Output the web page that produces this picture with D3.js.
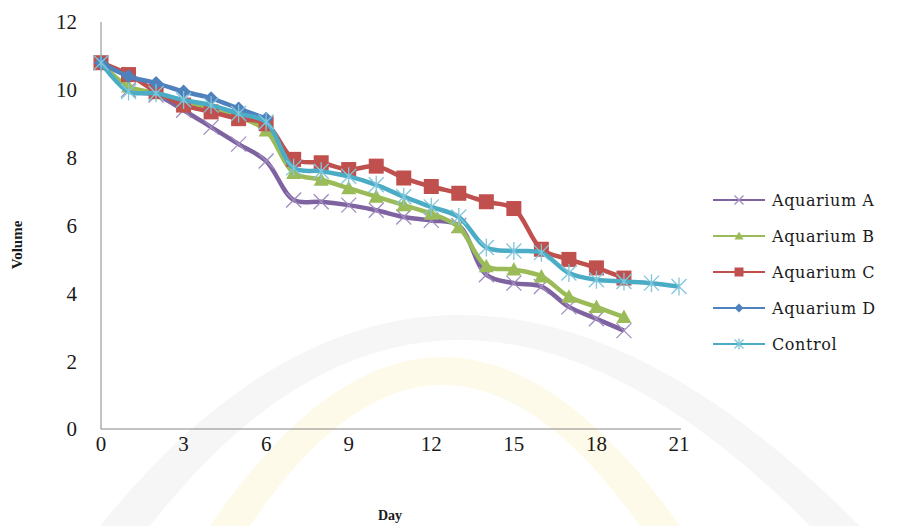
<!DOCTYPE html>
<html>
<head>
<meta charset="utf-8">
<script src="https://cdn.jsdelivr.net/npm/d3@7"></script>
<style>
  body { margin: 0; background: #fff; }
  svg { display: block; }
  .serif { font-family: "Liberation Serif", "Times New Roman", serif; }
  .legend-text { font-family: "DejaVu Serif", serif; }
</style>
</head>
<body>
<svg id="chart" width="903" height="526"></svg>
<script>
// values
var days = [0, 1, 2, 3, 4, 5, 6, 7, 8, 9, 10, 11, 12, 13, 14, 15, 16, 17, 18, 19, 20, 21];
var aquariumA = [10.8, 10.0, 9.85, 9.4, 8.9, 8.4, 7.9, 6.75, 6.7, 6.6, 6.45, 6.25, 6.15, 6.0, 4.55, 4.3, 4.2, 3.6, 3.25, 2.9];
var aquariumB = [10.8, 10.1, 9.9, 9.6, 9.45, 9.2, 8.8, 7.55, 7.35, 7.1, 6.85, 6.6, 6.35, 5.95, 4.8, 4.7, 4.5, 3.9, 3.6, 3.3];
var aquariumC = [10.8, 10.45, 9.95, 9.55, 9.35, 9.15, 9.0, 7.95, 7.85, 7.65, 7.75, 7.4, 7.15, 6.95, 6.7, 6.5, 5.3, 5.0, 4.75, 4.45];
var aquariumD = [10.8, 10.4, 10.2, 9.95, 9.75, 9.45, 9.15];
var control   = [10.8, 9.95, 9.9, 9.7, 9.55, 9.3, 9.05, 7.7, 7.6, 7.45, 7.2, 6.85, 6.55, 6.25, 5.35, 5.25, 5.2, 4.6, 4.4, 4.35, 4.3, 4.2];
var seriesNames = ['Aquarium A', 'Aquarium B', 'Aquarium C', 'Aquarium D', 'Control'];
var xTicks = [0, 3, 6, 9, 12, 15, 18, 21];
var yTicks = [0, 2, 4, 6, 8, 10, 12];

var series = [
  {name: seriesNames[0], values: aquariumA, line: '#7e63a0', mark: '#a08cc0', shape: 'x'},
  {name: seriesNames[1], values: aquariumB, line: '#9bbb59', mark: '#9bbb59', shape: 'triangle'},
  {name: seriesNames[2], values: aquariumC, line: '#c0504d', mark: '#c0504d', shape: 'square'},
  {name: seriesNames[3], values: aquariumD, line: '#4f81bd', mark: '#4f81bd', shape: 'diamond'},
  {name: seriesNames[4], values: control,   line: '#4bacc6', mark: '#80c6da', shape: 'star'}
];

var svg = d3.select('#chart');
var x = d3.scaleLinear().domain([0, 21]).range([101, 679]);
var y = d3.scaleLinear().domain([0, 12]).range([429, 22]);

// faint watermark bands behind the chart
svg.append('path')
  .attr('d', 'M100,526 Q440,104 860,526 L810,526 Q440,154 150,526 Z')
  .attr('fill', '#f6f6f6');
svg.append('path')
  .attr('d', 'M210,526 Q440,188 680,526 L640,526 Q440,244 250,526 Z')
  .attr('fill', '#fefaea');

// axes
svg.append('line')
  .attr('x1', x(0)).attr('x2', x(0))
  .attr('y1', y(12)).attr('y2', y(0))
  .attr('stroke', '#868686').attr('stroke-width', 1);
svg.append('line')
  .attr('x1', x(0)).attr('x2', x(21) + 2)
  .attr('y1', y(0)).attr('y2', y(0))
  .attr('stroke', '#868686').attr('stroke-width', 1);

svg.append('g').selectAll('text')
  .data(yTicks)
  .join('text')
  .attr('class', 'serif')
  .attr('x', 77)
  .attr('y', d => y(d))
  .attr('dy', '0.35em')
  .attr('text-anchor', 'end')
  .attr('font-size', 21)
  .attr('fill', '#1a1a1a')
  .text(d => d);

svg.append('g').selectAll('text')
  .data(xTicks)
  .join('text')
  .attr('class', 'serif')
  .attr('x', d => x(d))
  .attr('y', 451)
  .attr('text-anchor', 'middle')
  .attr('font-size', 21)
  .attr('fill', '#1a1a1a')
  .text(d => d);

svg.append('text')
  .attr('class', 'serif')
  .attr('transform', 'translate(22,' + 245 + ') rotate(-90)')
  .attr('text-anchor', 'middle')
  .attr('font-weight', 'bold')
  .attr('font-size', 15)
  .attr('fill', '#1a1a1a')
  .text('Volume');

svg.append('text')
  .attr('class', 'serif')
  .attr('x', (x(0) + x(21)) / 2)
  .attr('y', 520)
  .attr('text-anchor', 'middle')
  .attr('font-weight', 'bold')
  .attr('font-size', 14)
  .attr('fill', '#1a1a1a')
  .text('Day');

function drawMarker(g, shape, color, size) {
  var h = size / 2;
  if (shape === 'x') {
    g.append('path').attr('d', 'M' + (-h) + ',' + (-h) + 'L' + h + ',' + h + 'M' + (-h) + ',' + h + 'L' + h + ',' + (-h))
      .attr('stroke', color).attr('stroke-width', 1.3).attr('fill', 'none');
  } else if (shape === 'star') {
    g.append('path').attr('d', 'M' + (-h) + ',' + (-h) + 'L' + h + ',' + h + 'M' + (-h) + ',' + h + 'L' + h + ',' + (-h) + 'M0,' + (-h * 1.2) + 'L0,' + (h * 1.2))
      .attr('stroke', color).attr('stroke-width', 1.3).attr('fill', 'none');
  } else if (shape === 'square') {
    g.append('rect').attr('x', -h).attr('y', -h).attr('width', size).attr('height', size).attr('fill', color);
  } else if (shape === 'triangle') {
    g.append('path').attr('d', 'M0,' + (-h) + 'L' + h + ',' + h * 0.8 + 'L' + (-h) + ',' + h * 0.8 + 'Z').attr('fill', color);
  } else if (shape === 'diamond') {
    g.append('path').attr('d', 'M0,' + (-h) + 'L' + h + ',0L0,' + h + 'L' + (-h) + ',0Z').attr('fill', color);
  }
}

var line = d3.line()
  .x((d, i) => x(days[i]))
  .y(d => y(d))
  .curve(d3.curveCatmullRom.alpha(0.5));

var markSize = {x: 15, triangle: 15, square: 15, diamond: 14, star: 15};

series.forEach(function(s){
  var g = svg.append('g');
  g.append('path')
    .attr('d', line(s.values))
    .attr('fill', 'none')
    .attr('stroke', s.line)
    .attr('stroke-width', 4.5)
    .attr('stroke-linejoin', 'round');
  s.values.forEach(function(v, i){
    var m = g.append('g').attr('transform', 'translate(' + x(days[i]) + ',' + y(v) + ')');
    drawMarker(m, s.shape, s.mark, markSize[s.shape]);
  });
});

// legend
var legend = svg.append('g');
series.forEach(function(s, i){
  var ly = 200 + i * 36;
  legend.append('line')
    .attr('x1', 713).attr('x2', 765)
    .attr('y1', ly).attr('y2', ly)
    .attr('stroke', s.line).attr('stroke-width', 2);
  var m = legend.append('g').attr('transform', 'translate(739,' + ly + ')');
  drawMarker(m, s.shape, s.mark, 9);
  legend.append('text')
    .attr('class', 'legend-text')
    .attr('x', 772)
    .attr('y', ly)
    .attr('dy', '0.35em')
    .attr('font-size', 16)
    .attr('letter-spacing', 0.6)
    .attr('fill', '#1a1a1a')
    .text(s.name);
});
</script>
</body>
</html>
